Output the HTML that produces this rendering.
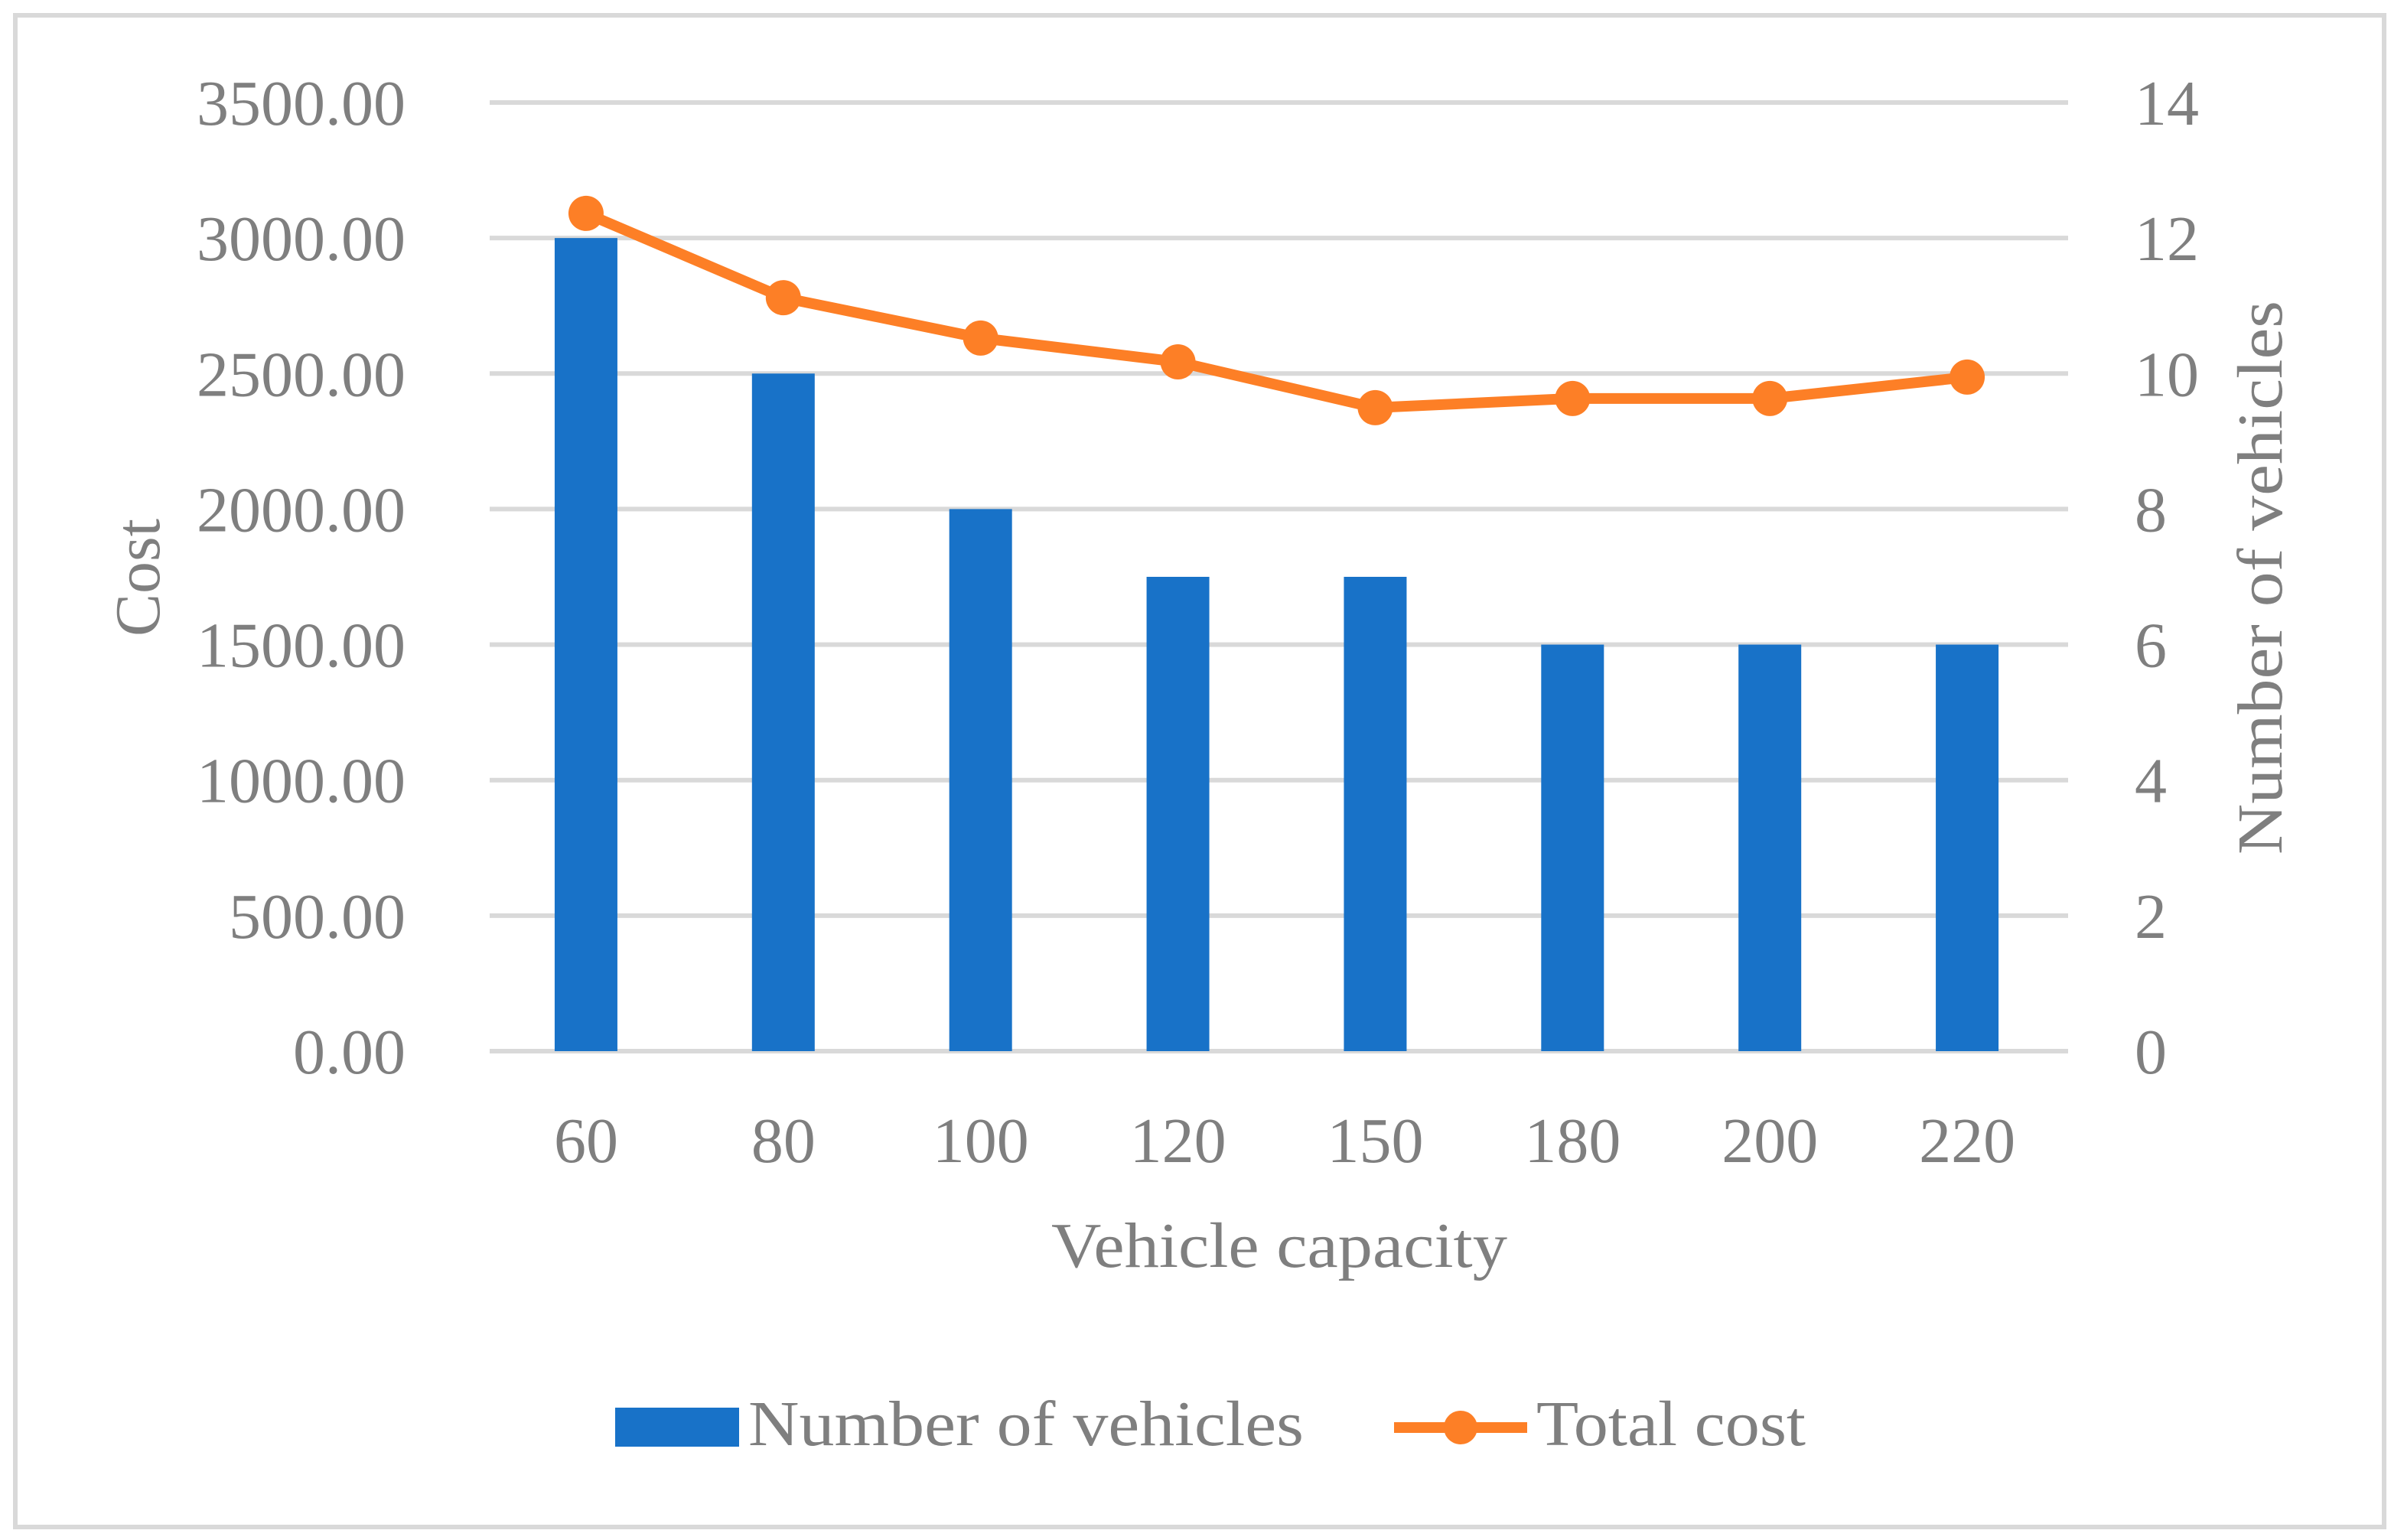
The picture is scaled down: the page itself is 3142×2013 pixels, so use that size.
<!DOCTYPE html>
<html><head><meta charset="utf-8"><style>
html,body{margin:0;padding:0;background:#fff;}
svg{display:block;}
text{font-family:"Liberation Serif",serif;fill:#7f7f7f;}
</style></head><body>
<svg id="chart" width="3142" height="2013" viewBox="0 0 3142 2013" xmlns="http://www.w3.org/2000/svg">
<rect x="20" y="20" width="3096" height="1976" fill="#fff" stroke="#d9d9d9" stroke-width="6"/>
<g id="grid"></g><g id="bars"></g><g id="line"></g><g id="labels"></g>
<text x="0" y="0" font-size="84" text-anchor="middle" transform="translate(208,755) rotate(-90)">Cost</text>
<text x="0" y="0" font-size="84" text-anchor="middle" textLength="724" lengthAdjust="spacingAndGlyphs" transform="translate(2982,755) rotate(-90)">Number of vehicles</text>
<text x="1672" y="1656" font-size="84" text-anchor="middle" textLength="596" lengthAdjust="spacingAndGlyphs">Vehicle capacity</text>
<g>
<rect x="804" y="1840" width="162" height="51" fill="#1872c8"/>
<text x="978" y="1889" font-size="84" textLength="726" lengthAdjust="spacingAndGlyphs">Number of vehicles</text>
<line x1="1822" y1="1866" x2="1996" y2="1866" stroke="#fd7f26" stroke-width="14"/>
<circle cx="1909" cy="1866" r="22" fill="#fd7f26"/>
<text x="2008" y="1889" font-size="84" textLength="352" lengthAdjust="spacingAndGlyphs">Total cost</text>
</g>
</svg>
<script>
const categories = ["60","80","100","120","150","180","200","220"];
const vehicles = [12,10,8,7,7,6,6,6];
const totalCost = [3091,2780,2631,2543,2374,2408,2408,2487];
const leftTicks = ["0.00","500.00","1000.00","1500.00","2000.00","2500.00","3000.00","3500.00"];
const rightTicks = ["0","2","4","6","8","10","12","14"];
const NS="http://www.w3.org/2000/svg";
const X0=640, X1=2703, Y0=1374, Y1=134;
const band=(X1-X0)/categories.length;
const xc=i=>X0-3+band*(i+0.5);
const yL=v=>Y0-(v/3500)*(Y0-Y1);
const yR=v=>Y0-(v/14)*(Y0-Y1);
function mk(tag,attrs,parent){const e=document.createElementNS(NS,tag);for(const k in attrs)e.setAttribute(k,attrs[k]);parent.appendChild(e);return e;}
const grid=document.getElementById('grid'),bars=document.getElementById('bars'),line=document.getElementById('line'),labels=document.getElementById('labels');
leftTicks.forEach((t,i)=>{
  const v=parseFloat(t);const y=yL(v);
  const g=mk('line',{x1:X0,x2:X1,y1:y,y2:y,stroke:'#d9d9d9','stroke-width':6},grid);
  
  
  const tl=mk('text',{x:530,y:y+29,'font-size':84,'text-anchor':'end'},labels);tl.textContent=t;
  
  
});
rightTicks.forEach(t=>{
  const y=yR(parseFloat(t));
  const tr=mk('text',{x:2790,y:y+29,'font-size':84},labels);tr.textContent=t;
  
  
});
categories.forEach((c,i)=>{
  const y=yR(vehicles[i]);
  const b=mk('rect',{x:xc(i)-41,y:y,width:82,height:Y0-y,fill:'#1872c8'},bars);
  
  
  const tx=mk('text',{x:xc(i),y:1519,'font-size':84,'text-anchor':'middle'},labels);tx.textContent=c;
  
  
});
const pts=totalCost.map((v,i)=>xc(i)+','+yL(v)).join(' ');
const pl=mk('polyline',{points:pts,fill:'none',stroke:'#fd7f26','stroke-width':14,'stroke-linejoin':'round'},line);


totalCost.forEach((v,i)=>{
  const p=mk('circle',{cx:xc(i),cy:yL(v),r:23,fill:'#fd7f26'},line);
  
  
});
</script>
</body></html>
